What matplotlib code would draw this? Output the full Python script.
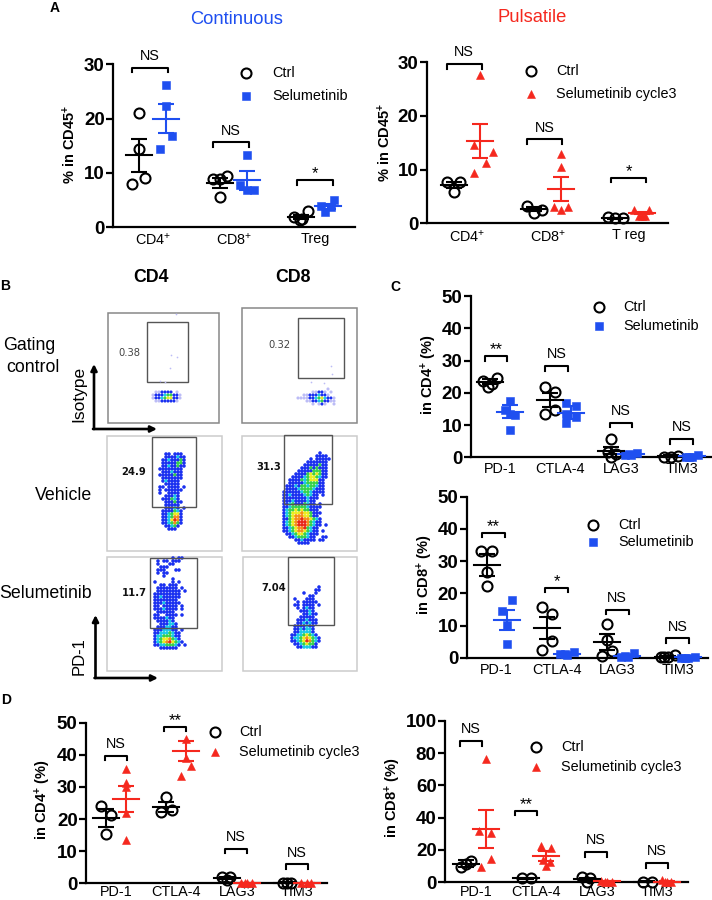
import matplotlib
matplotlib.use('Agg')
import matplotlib.pyplot as plt
from matplotlib.patches import Rectangle

plt.rcParams['font.family'] = ['Liberation Sans', 'DejaVu Sans']
plt.rcParams['mathtext.fontset'] = 'custom'
plt.rcParams['mathtext.rm'] = 'Liberation Sans'
plt.rcParams['mathtext.bf'] = 'Liberation Sans:bold'
plt.rcParams['mathtext.default'] = 'regular'

W, H = 712, 900
BLUE = '#1f4ff0'
RED = '#f5281e'

# Panel A, continuous
a1_cats = ['CD4$^{+}$', 'CD8$^{+}$', 'Treg']
a1_ctrl = [[21, 14.4, 9.1, 7.9], [8.8, 9.4, 8.8, 5.6], [1.9, 1.3, 3.0, 1.5]]
a1_ctrl_dx = [[0, 0, 6, -7], [-7, 7, 0, 0], [-7, -1, 7, 1]]
a1_ctrl_mean = [13.2, 8.1, 1.9]
a1_ctrl_sem = [3.05, 0.9, 0.35]
a1_sel = [[26.2, 22.4, 16.8, 14.4], [13.3, 7.8, 6.8, 6.8], [3.8, 4.9, 2.7, 3.6]]
a1_sel_dx = [[0, 0, 6, -6], [0, -7, 0, 7], [-7, 6, -3, 3]]
a1_sel_mean = [20.0, 8.6, 3.8]
a1_sel_sem = [2.7, 1.75, 0.5]
a1_sig = ['NS', 'NS', '*']
a1_sig_y = [29.4, 15.6, 8.6]
a1_sig_dx = [-3, -3, 0]

# Panel A, pulsatile
a2_cats = ['CD4$^{+}$', 'CD8$^{+}$', 'T reg']
a2_ctrl = [[7.7, 7.7, 5.8], [3.3, 2.0, 2.5], [1.1, 0.9, 0.9]]
a2_ctrl_dx = [[-7, 6, 0], [-7, 0, 8], [-7, 0, 8]]
a2_ctrl_mean = [7.1, 2.7, 0.9]
a2_ctrl_sem = [0.6, 0.4, 0.15]
a2_sel = [[27.5, 14.6, 13.3, 11.2, 9.3], [12.9, 10.4, 3.0, 3.0, 2.4], [2.4, 2.4, 1.4, 1.4, 1.4]]
a2_sel_dx = [[0, -6, 13, 6, -6], [0, 0, -7, 7, 0], [-8, 7, 0, -3, 3]]
a2_sel_mean = [15.3, 6.4, 1.9]
a2_sel_sem = [3.2, 2.2, 0.2]
a2_sig = ['NS', 'NS', '*']
a2_sig_y = [29.6, 15.6, 8.5]
a2_sig_dx = [-3, -3, 0]

# Panel C, CD4
checkpoints = ['PD-1', 'CTLA-4', 'LAG3', 'TIM3']
c1_ctrl = [[23.7, 24.7, 21.9, 22.8], [21.9, 20.4, 14.7, 13.6], [5.6, 1.8, 1.0, 0.2], [0.1, 0.1, 0.5]]
c1_ctrl_dx = [[-7, 7, -2, 2], [-5, 5, 5, -5], [0, -3, 5, 0], [-7, 0, 7]]
c1_ctrl_mean = [23.5, 17.8, 2.1, 0.4]
c1_ctrl_sem = [0.7, 2.1, 1.2, 0.2]
c1_sel = [[17.5, 14.7, 13.1, 8.5, 13.4], [16.8, 15.9, 13.5, 12.4, 10.6], [0.7, 0.7, 1.2, 0.9], [0.2, 0.1, 0.6, 0.2]]
c1_sel_dx = [[0, -5, 5, 0, 0], [-5, 5, -5, 5, -5], [-6, 0, 6, -2], [-6, 0, 6, -3]]
c1_sel_mean = [14.2, 13.9, 1.0, 0.3]
c1_sel_sem = [2.0, 2.0, 0.2, 0.15]
c1_sig = ['**', 'NS', 'NS', 'NS']
c1_sig_y = [31.4, 28.4, 10.8, 5.7]
c1_sig_dx = [-4, -4, 0, 0]

# Panel C, CD8
c2_ctrl = [[33.2, 33.2, 26.8, 22.4], [15.8, 13.5, 5.2, 2.5], [10.6, 2.1, 0.6, 5.6], [0.4, 0.2, 1.0, 0.2]]
c2_ctrl_dx = [[-6, 5, 0, 0], [-5, 5, 5, -5], [0, 5, -5, 0], [-7, 0, 7, -4]]
c2_ctrl_mean = [28.8, 9.2, 4.9, 0.4]
c2_ctrl_sem = [3.4, 3.4, 2.4, 0.2]
c2_sel = [[18.0, 14.7, 10.2, 4.3], [1.2, 1.0, 2.0, 1.3], [0.4, 0.4, 1.4, 0.6], [0.1, 0.1, 0.3, 0.1]]
c2_sel_dx = [[5, -5, 0, 0], [-7, 0, 7, -2], [-6, 1, 7, -2], [-7, 0, 7, -3]]
c2_sel_mean = [11.8, 1.2, 0.7, 0.2]
c2_sel_sem = [3.2, 0.3, 0.3, 0.1]
c2_sig = ['**', '*', 'NS', 'NS']
c2_sig_y = [38.9, 21.8, 15.0, 6.1]
c2_sig_dx = [-3, -0.5, 0, 0]

# Panel D, CD4
d1_ctrl = [[24.0, 21.4, 15.3], [26.8, 22.1, 22.8], [2.0, 1.9, 1.0], [0.2, 0.2, 0.1]]
d1_ctrl_dx = [[-5, 5, 0], [0, -5, 6], [-5, 3, 0], [-4, 4, 0]]
d1_ctrl_mean = [20.3, 23.9, 1.6, 0.2]
d1_ctrl_sem = [2.7, 1.55, 0.3, 0.1]
d1_sel = [[35.6, 31.2, 30.1, 21.8, 13.5], [44.8, 38.9, 36.5, 33.5], [0.1, 0.1, 0.1, 0.1], [0.05, 0.05, 0.05]]
d1_sel_dx = [[0, 0, 0, 0, 0], [0, 0, 5, -5], [-6, 0, 5, -2], [-6, 0, 4]]
d1_sel_mean = [26.2, 41.2, 0.1, 0.05]
d1_sel_sem = [3.95, 3.25, 0.05, 0.02]
d1_sig = ['NS', '**', 'NS', 'NS']
d1_sig_y = [39.7, 48.8, 10.8, 5.9]
d1_sig_dx = [0, -1.5, -0.5, 0]

# Panel D, CD8
d2_ctrl = [[9.7, 13.4, 11.3], [2.7, 2.7], [3.0, 2.5, 0.4], [0.4, 0.4]]
d2_ctrl_dx = [[-5, 5, 0], [-4, 5], [-5, 3, 0], [-4, 5]]
d2_ctrl_mean = [11.5, 2.5, 2.0, 0.4]
d2_ctrl_sem = [2.0, 0.3, 0.8, 0.1]
d2_sel = [[76, 32, 30.3, 14.4, 9.3], [22.7, 21, 13.8, 12.8, 10.3], [1.0, 0.4, 0.4, 0.4], [1.4, 0.2, 0.2, 0.2]]
d2_sel_dx = [[0, -7, 5, 5, -5], [-5, 5, -3, 4, 0], [-6, 0, 5, -2], [-5, 0, 4, -2]]
d2_sel_mean = [33.2, 16.3, 0.5, 0.4]
d2_sel_sem = [11.8, 3.1, 0.2, 0.2]
d2_sig = ['NS', '**', 'NS', 'NS']
d2_sig_y = [87.4, 44.3, 18.6, 12.0]
d2_sig_dx = [-5, -10.5, -0.5, 0]

# Flow plots: one letter per 3 px cell
veh_cd4_cells = [
    "..bb.bbb.", "..bbbbcbb", ".bbcbbbgb", ".bbbbbggb", ".bbcbbgbb",
    "bbbbbbbb.", ".bbbcbbb.", "bbbbbgbb.", ".bbbbbbb.", ".bcbbbb..",
    "..bbbbb..", "bb.bbbb.b", "b.bbbbbb.", "b..bbbb..", "..bbbcb..",
    ".bbbgcb..", "..bbbgbb.", "..bbbbb..", "..bbbcb.b", ".bbbbgcb.",
    ".bbcgyyb.", ".bbcgoob.", ".bbcyrob.", ".bbcgogb.", "..bbcgb..",
    "...bbb...",
]
veh_cd8_cells = [
    "............b...", "...........bbbb.", ".........b.bbbbb", "........bbbbbbb.",
    ".......bbbbbgbb.", "......bbbgbgbbb.", ".....bbbbbgggbb.", "....bbbbgygygbb.",
    "...bbbbcgyygcbb.", "..bbbbgcgyyybb..", "..bbbbbcggggbb..", ".bbbcbggcggcbb..",
    ".bbbbcggggcbbb..", "bbbbbbcggcbbbb..", "bbcbbbbcgcbb.b..", "bbbbbbbbcbbb....",
    "bbbcbbbbcbb.....", "bbcgbbbgcbb.b...", "bbcgggggcbbbb...", "bcggygyggbbb....",
    "bcgyyyoyygbbb...", "bcgyoooyygbb....", "bbgyoorooygcb...", "bcgyorrrogcbb...",
    "bcgyorrrogcbb.b.", "bbcgyoorgcbb....", "bbcgyooygcbb.b..", ".bbcgyygcbbb....",
    "..bbcgggcbb..bb.", "....bbcbbbb.bb..", ".....bbbb.......",
]
sel_cd4_cells = [
    "......b.bb.", ".b.bb.bbb..", ".b...bb....", "..bbb......", ".bbb...bb..",
    ".b.bb......", "...b.......", "......b....", "b.....b.b..", "..bb.bbb...",
    ".bbbbbbb.b.", ".bbbbbbbb.b", "bbbbbbbbb..", "bbcbbbbbb..", "bbbbbbbb...",
    "bbbcbbbbb..", "bb.bbbbb.b.", "bbbcbbbb.b.", ".bbbbbb....", "bb..bbbb.b.",
    "bbbbcbb....", ".bbbbcb....", "..bbbccb...", ".bbbccbb...", "bbbcccbb.b.",
    "bbcccgcbb..", "bccgggcbb..", "bcgyyogcb..", "bcgyorygcb.", "bbccgggcb.b",
    "..bbbbbb...",
]
sel_cd8_cells = [
    ".........b.", "........bb.", "....b...b..", "......bb...", ".b...bbb...",
    "..b.bbbbb..", ".bb.bbbb.b.", "..b.bcbb...", "...bbbcb...", "....bbcbb..",
    "...bbbbb...", "..bbbcbbb..", "..bbcbcbb..", ".bbbbcbb...", ".bbcbccb...",
    ".bbccccb...", "bbccgygcb..", "bccgyoygcb.", "bbcgyrogcb.", ".bbcgyggb..",
    "..bbcccbb..",
]
iso_cd4_cells = [".ppbbbb.p.", "pbbbcggbbp", "pbbcgyybbp", ".ppbbbbbp."]
iso_cd8_cells = [
    "..........p...", ".....ppbbp.p..", "..ppbbbcbbp...",
    "ppppbbcgycbbp.", "...ppbbcgbbpp.", ".....p.pbp..p.",
]
iso_stray_x = [171, 177, 170, 160, 165, 176, 331, 332, 311, 324]
iso_stray_y = [355, 357, 368, 381, 382, 314, 366, 374, 382, 383]
flow_labels = ['0.38', '0.32', '24.9', '31.3', '11.7', '7.04']
row_labels = ['Gating', 'control', 'Vehicle', 'Selumetinib']
cell_colors = {'p': '#bcbcf6', 'b': '#1a30f0', 'c': '#19c8e8', 'g': '#35d24a',
               'y': '#ecec20', 'o': '#f58c1a', 'r': '#e8261a'}


def px_axes(x0, x1, y_bottom, y_top):
    return plt.gcf().add_axes([x0 / W, 1 - y_bottom / H, (x1 - x0) / W, (y_bottom - y_top) / H])


def draw_series(ax, groups, dxs, means, sems, side, pitch, color, **mk):
    for i in range(len(groups)):
        centre = i + side
        xs = [centre + d / pitch for d in dxs[i]]
        ax.plot(xs, groups[i], ls='none', clip_on=False, zorder=3, **mk)
        ax.plot([centre - 13 / pitch, centre + 13 / pitch], [means[i], means[i]],
                color=color, lw=1.5, clip_on=False, zorder=4)
        ax.errorbar(centre, means[i], yerr=sems[i], color=color, lw=1.5, capsize=5.8,
                    capthick=1.5, clip_on=False, zorder=4)


def scatter_panel(rect, centre0, pitch, off, ymax, ystep, cats,
                  ctrl, ctrl_dx, ctrl_mean, ctrl_sem,
                  sel, sel_dx, sel_mean, sel_sem, sel_color, sel_marker,
                  sig, sig_y, sig_dx, half_w, cat_pad=3.5):
    x0, x1, yb, yt = rect
    ax = px_axes(x0, x1, yb, yt)
    ax.patch.set_alpha(0)
    ax.set_xlim((x0 - centre0) / pitch, (x1 - centre0) / pitch)
    ax.set_ylim(0, ymax)
    for s in ['top', 'right']:
        ax.spines[s].set_visible(False)
    for s in ['left', 'bottom']:
        ax.spines[s].set_linewidth(1.6)
    ax.set_yticks(range(0, ymax + 1, ystep))
    ax.tick_params(axis='y', length=5, width=1.6, pad=1, labelsize=13.5)
    for t in ax.get_yticklabels():
        t.set_fontweight('bold')
    ax.set_xticks(range(len(cats)))
    ax.set_xticklabels(cats, fontsize=10.4)
    ax.tick_params(axis='x', length=0, pad=cat_pad)
    draw_series(ax, ctrl, ctrl_dx, ctrl_mean, ctrl_sem, -off / pitch, pitch, 'black',
                marker='o', ms=7.2, mfc='none', mec='black', mew=1.5)
    draw_series(ax, sel, sel_dx, sel_mean, sel_sem, off / pitch, pitch, sel_color,
                marker=sel_marker, ms=6.4, mfc=sel_color, mec=sel_color, mew=0.4)
    tip = 4.7 / (yb - yt) * ymax
    for i in range(len(sig)):
        mid = i + sig_dx[i] / pitch
        hw = half_w / pitch
        ax.plot([mid - hw, mid - hw, mid + hw, mid + hw],
                [sig_y[i] - tip, sig_y[i], sig_y[i], sig_y[i] - tip],
                color='black', lw=1.5, clip_on=False, zorder=5)
        star = sig[i].startswith('*')
        ax.annotate(sig[i], (mid, sig_y[i]), xytext=(0, 4.5 if star else 8.5),
                    textcoords='offset points', ha='center', va='center',
                    fontsize=12 if star else 10.4, clip_on=False)
    return ax


fig = plt.figure(figsize=(W / 100, H / 100), dpi=100)
fig.patch.set_facecolor('white')

Y45 = '% in CD45$^{\\mathbf{+}}$'
YC4 = 'in CD4$^{\\mathbf{+}}$ (%)'
YC8 = 'in CD8$^{\\mathbf{+}}$ (%)'

scatter_panel((113, 355, 227, 64.3), 152.8, 81, 13.5, 30, 10, a1_cats,
              a1_ctrl, a1_ctrl_dx, a1_ctrl_mean, a1_ctrl_sem,
              a1_sel, a1_sel_dx, a1_sel_mean, a1_sel_sem, BLUE, 's',
              a1_sig, a1_sig_y, a1_sig_dx, 17.7)
scatter_panel((426.7, 668, 223.3, 62), 467, 80.8, 13.4, 30, 10, a2_cats,
              a2_ctrl, a2_ctrl_dx, a2_ctrl_mean, a2_ctrl_sem,
              a2_sel, a2_sel_dx, a2_sel_mean, a2_sel_sem, RED, '^',
              a2_sig, a2_sig_y, a2_sig_dx, 17.5)
scatter_panel((470.7, 711.5, 457.3, 296.3), 499.8, 60.6, 10.3, 50, 10, checkpoints,
              c1_ctrl, c1_ctrl_dx, c1_ctrl_mean, c1_ctrl_sem,
              c1_sel, c1_sel_dx, c1_sel_mean, c1_sel_sem, BLUE, 's',
              c1_sig, c1_sig_y, c1_sig_dx, 11.3)
scatter_panel((466.7, 708, 658, 496.7), 496.7, 60.3, 10, 50, 10, checkpoints,
              c2_ctrl, c2_ctrl_dx, c2_ctrl_mean, c2_ctrl_sem,
              c2_sel, c2_sel_dx, c2_sel_mean, c2_sel_sem, BLUE, 's',
              c2_sig, c2_sig_y, c2_sig_dx, 11.3)
scatter_panel((86, 326.7, 883.3, 722.7), 116, 60.4, 10, 50, 10, checkpoints,
              d1_ctrl, d1_ctrl_dx, d1_ctrl_mean, d1_ctrl_sem,
              d1_sel, d1_sel_dx, d1_sel_mean, d1_sel_sem, RED, '^',
              d1_sig, d1_sig_y, d1_sig_dx, 11, cat_pad=1.5)
scatter_panel((445, 687.7, 882.3, 720.7), 476, 60.4, 10, 100, 20, checkpoints,
              d2_ctrl, d2_ctrl_dx, d2_ctrl_mean, d2_ctrl_sem,
              d2_sel, d2_sel_dx, d2_sel_mean, d2_sel_sem, RED, '^',
              d2_sig, d2_sig_y, d2_sig_dx, 11, cat_pad=2)

# overlay in picture pixels for everything that is not on a data scale
ov = fig.add_axes([0, 0, 1, 1], zorder=10)
ov.set_xlim(0, W)
ov.set_ylim(H, 0)
ov.axis('off')

for x, y, s in [(70, 144, Y45), (385, 142, Y45), (429, 375, YC4),
                (425, 575, YC8), (43, 800, YC4), (393, 798, YC8)]:
    ov.text(x, y, s, rotation=90, ha='center', va='center', fontsize=10.5, fontweight='bold')

for x, y, s in [(55, 8, 'A'), (5, 286, 'B'), (395, 287, 'C'), (6, 700, 'D')]:
    ov.text(x, y, s, ha='center', va='center', fontsize=10, fontweight='bold')
ov.text(237, 20, 'Continuous', color=BLUE, ha='center', va='center', fontsize=13.2)
ov.text(532, 18, 'Pulsatile', color=RED, ha='center', va='center', fontsize=13.2)

# legends
for cx, cy, sx, sy, tx, mk, col, name in [
        (246, 73, 246, 96, 272, 's', BLUE, 'Selumetinib'),
        (531, 71, 531, 94, 556, '^', RED, 'Selumetinib cycle3'),
        (599, 307, 599, 326, 623, 's', BLUE, 'Selumetinib'),
        (593, 525, 593, 542, 618, 's', BLUE, 'Selumetinib'),
        (215, 732, 215, 752, 239, '^', RED, 'Selumetinib cycle3'),
        (536, 747, 536, 767, 561, '^', RED, 'Selumetinib cycle3')]:
    ov.plot([cx], [cy], marker='o', ms=7.2, mfc='none', mec='black', mew=1.5)
    ov.plot([sx], [sy], marker=mk, ms=6.4, mfc=col, mec=col, mew=0.4)
    ov.text(tx, cy, 'Ctrl', ha='left', va='center', fontsize=10.4)
    ov.text(tx, sy, name, ha='left', va='center', fontsize=10.4)


def flow_plot(box, gate, edge, cells, origin, label, label_xy, bold, ms):
    ov.add_patch(Rectangle((box[0], box[1]), box[2] - box[0], box[3] - box[1],
                           fill=False, ec=edge, lw=1.1))
    xs, ys, cs = [], [], []
    for r, row in enumerate(cells):
        for c, ch in enumerate(row):
            if ch != '.':
                xs.append(origin[0] + 3 * c)
                ys.append(origin[1] + 3 * r)
                cs.append(cell_colors[ch])
    ov.scatter(xs, ys, c=cs, s=ms, marker='o', linewidths=0)
    ov.add_patch(Rectangle((gate[0], gate[1]), gate[2] - gate[0], gate[3] - gate[1],
                           fill=False, ec='#555555', lw=1.0))
    ov.text(label_xy[0], label_xy[1], label, family='DejaVu Sans', ha='center', va='center',
            fontsize=7.2, fontweight='bold' if bold else 'normal',
            color='#111111' if bold else '#444444')


flow_plot((107.7, 312.7, 218.7, 423.3), (147.3, 322.3, 188.3, 381.7), '#888888',
          iso_cd4_cells, (153, 392), flow_labels[0], (129, 352.7), False, 5)
flow_plot((241.7, 307.7, 357.3, 423.3), (297.7, 317.7, 344.3, 378.3), '#888888',
          iso_cd8_cells, (298, 389), flow_labels[1], (279.7, 345), False, 5)
flow_plot((106.7, 435.7, 222, 550.7), (152, 437.3, 196, 507.3), '#cccccc',
          veh_cd4_cells, (160, 454), flow_labels[2], (133.7, 472.3), True, 6.5)
flow_plot((241.7, 435.7, 357.3, 551), (284.3, 435.3, 332.3, 504.3), '#cccccc',
          veh_cd8_cells, (284, 453), flow_labels[3], (268.3, 466.7), True, 6.5)
flow_plot((107.3, 556.7, 222, 670.7), (150.3, 557.7, 197.3, 627.7), '#cccccc',
          sel_cd4_cells, (155, 558), flow_labels[4], (134, 593.3), True, 6.5)
flow_plot((243, 556.7, 357.3, 670.7), (288.3, 556.7, 334.3, 625.3), '#cccccc',
          sel_cd8_cells, (292, 587), flow_labels[5], (273.3, 588), True, 6.5)
ov.scatter(iso_stray_x, iso_stray_y, s=1.5, color=cell_colors['p'], linewidths=0)

ov.text(150.7, 278, 'CD4', ha='center', va='center', fontsize=12.8, fontweight='bold')
ov.text(293, 278, 'CD8', ha='center', va='center', fontsize=12.8, fontweight='bold')
ov.text(29, 345, row_labels[0], ha='center', va='center', fontsize=12.8)
ov.text(33, 367, row_labels[1], ha='center', va='center', fontsize=12.8)
ov.text(64, 496, row_labels[2], ha='center', va='center', fontsize=12.8)
ov.text(46, 593, row_labels[3], ha='center', va='center', fontsize=12.8)
ov.text(78.7, 394, 'Isotype', rotation=90, ha='center', va='center', fontsize=12.5)
ov.text(78.7, 656, 'PD-1', rotation=90, ha='center', va='center', fontsize=12)

arrow = dict(arrowstyle='-|>', lw=1.9, color='black', shrinkA=0, shrinkB=0, mutation_scale=9)
for ax0, ay0, tx, ty in [(94, 429, 94, 364), (93, 429, 157, 429),
                         (95.5, 678, 95.5, 615), (94.5, 678, 158, 678)]:
    ov.annotate('', xy=(tx, ty), xytext=(ax0, ay0), arrowprops=arrow)

fig.savefig('out.png', dpi=100, facecolor='white')
